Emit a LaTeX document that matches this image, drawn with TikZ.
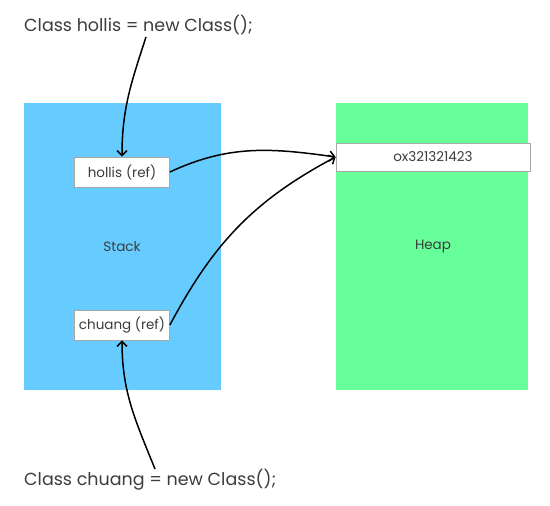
\documentclass[tikz,border=0pt]{standalone}
\usepackage{fontspec}
\setmainfont{Poppins}
\usetikzlibrary{arrows.meta,positioning}

\definecolor{stackblue}{HTML}{66CCFF}
\definecolor{heapgreen}{HTML}{66FF99}
\definecolor{inkgray}{HTML}{3C3C3C}

\tikzset{
  refbox/.style={draw=gray!70,fill=white,line width=0.8pt,minimum width=95pt,minimum height=30pt,
    inner sep=0pt,font=\fontsize{13.5pt}{15pt}\selectfont,text=inkgray},
  arealabel/.style={font=\fontsize{13.5pt}{15pt}\selectfont,text=inkgray},
  codeline/.style={anchor=west,inner sep=0pt,font=\fontsize{17.5pt}{20pt}\selectfont,text=inkgray},
  link/.style={line width=1.5pt,black,-{Straight Barb[length=5pt,width=10pt]}},
}

\begin{document}
\begin{tikzpicture}[x=1pt,y=1pt]
       \useasboundingbox (0,0) rectangle (550,506);

       % the two memory areas
       \fill[stackblue] (24,116) rectangle (221,403);
       \fill[heapgreen] (336,116) rectangle (528,403);

       \node[arealabel] (stack) at (122,259) {Stack};
       \node[arealabel] (heap) at (433,259) {Heap};

       \node[refbox] (hollis) at (122,334) {hollis\hspace{0.3em}(ref)};
       \node[refbox] (chuang) at (122,181) {chuang (ref)};
       \node[refbox,minimum width=194pt,minimum height=28pt] (obj) at (433,349) {ox321321423};

       % the two statements
       \node[codeline] (decl1) at (24,481) {Class hollis = new Class();};
       \node[codeline] (decl2) at (24,26) {Class chuang = new Class();};

       \coordinate (decl1end) at (146,469);
       \coordinate (decl2end) at (155,37);

       \draw[link] (decl1end) to[out=-108,in=90] (hollis.north);
       \draw[link] (decl2end) to[out=112,in=-90] (chuang.south);
       \draw[link] (hollis.east) to[out=25,in=172] (obj.west);
       \draw[link] (chuang.east) to[out=62,in=-152] (obj.west);
     \end{tikzpicture}
\end{document}
